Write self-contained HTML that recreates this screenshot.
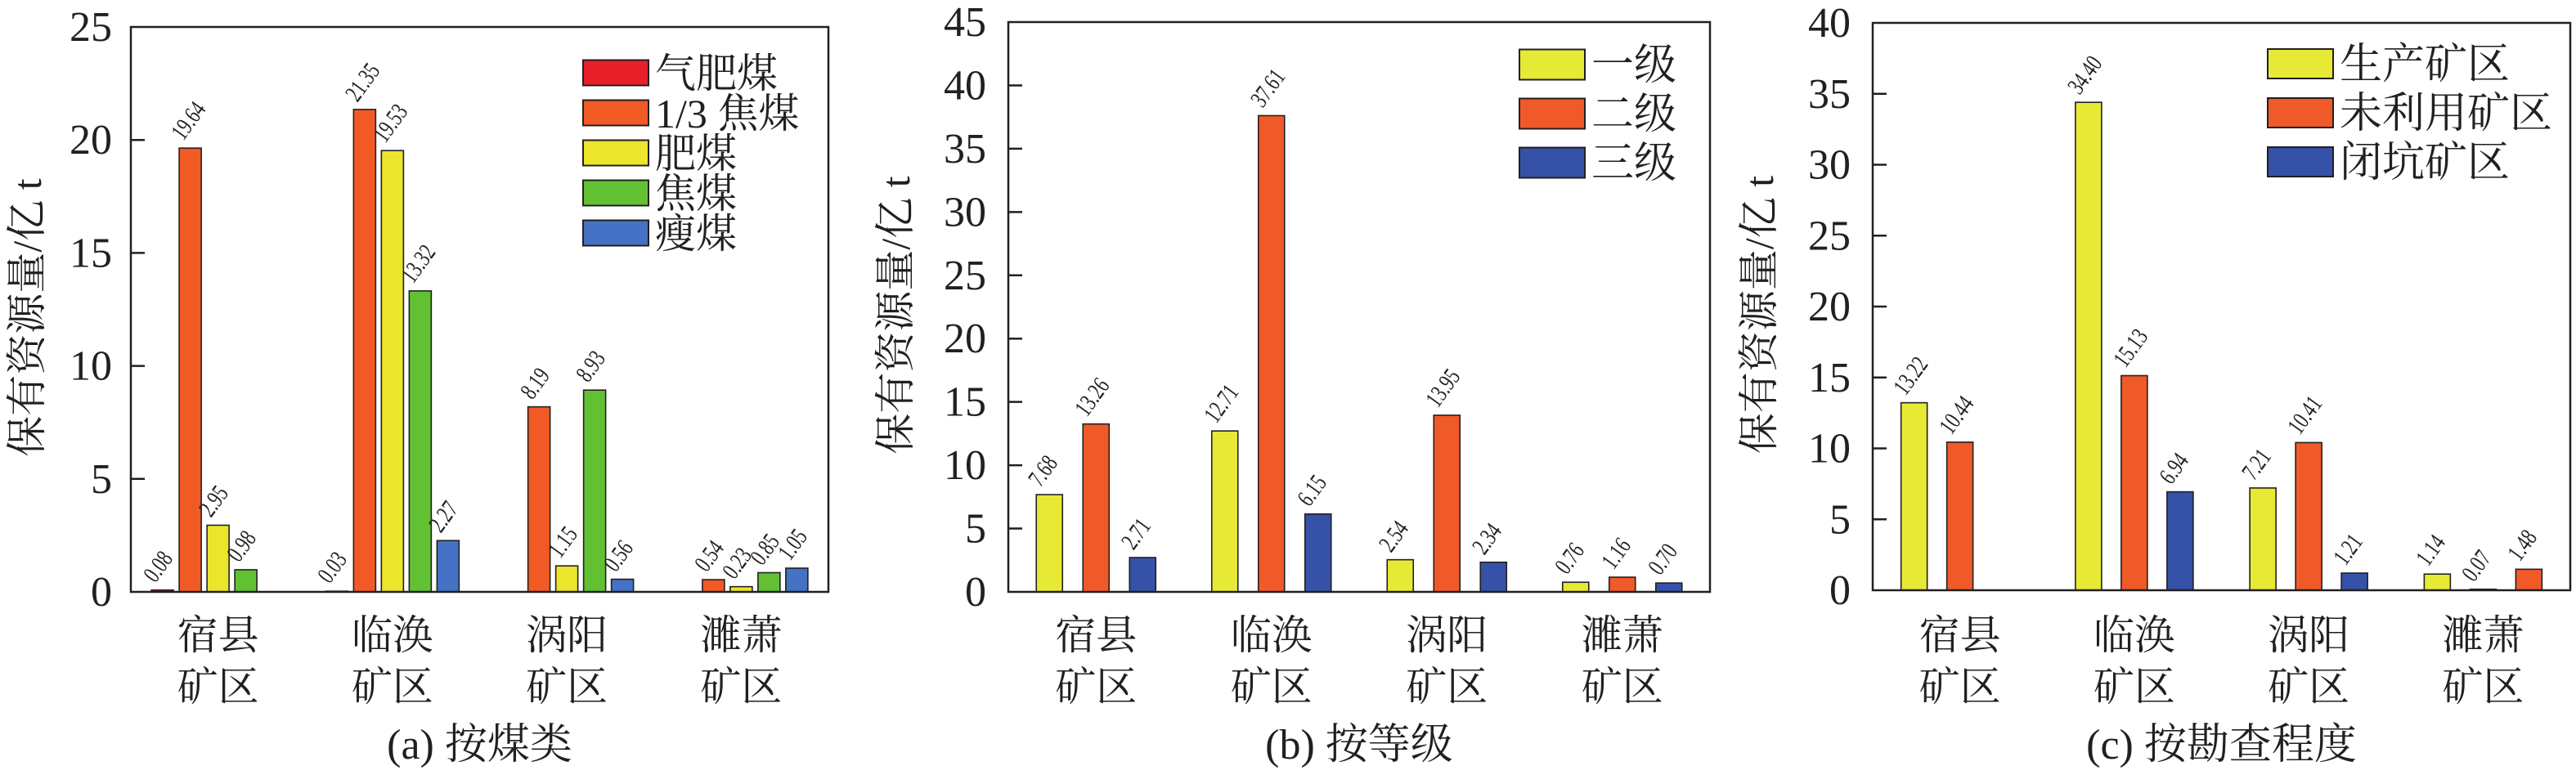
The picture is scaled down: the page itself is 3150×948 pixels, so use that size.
<!DOCTYPE html>
<html><head><meta charset="utf-8">
<style>
html,body{margin:0;padding:0;background:#fff;}
#wrap{position:relative;width:3150px;height:948px;overflow:hidden;}
svg{display:block;position:absolute;left:0;top:0;}
text{font-family:"Liberation Serif","Noto Serif CJK SC",serif;fill:#231f20;}
.vl{position:absolute;font-family:"Liberation Serif",serif;font-size:30px;line-height:30px;color:#231f20;white-space:nowrap;transform-origin:0 24px;transform:rotate(-54deg) scaleX(0.72);}
</style></head>
<body>
<div id="wrap">
<svg id="chart" width="3150" height="948" viewBox="0 0 3150 948" xmlns="http://www.w3.org/2000/svg"></svg>
</div>
<script>
const categories = ["宿县|矿区","临涣|矿区","涡阳|矿区","濉萧|矿区"];

// Panel (a) 按煤类
const aSeriesNames = ["气肥煤","1/3 焦煤","肥煤","焦煤","瘦煤"];
const aQifei = [0.08, 0.03, 0, 0];
const aOneThird = [19.64, 21.35, 8.19, 0.54];
const aFei = [2.95, 19.53, 1.15, 0.23];
const aJiao = [0.98, 13.32, 8.93, 0.85];
const aShou = [0, 2.27, 0.56, 1.05];
const aTicks = [0,5,10,15,20,25];

// Panel (b) 按等级
const bSeriesNames = ["一级","二级","三级"];
const bGrade1 = [7.68, 12.71, 2.54, 0.76];
const bGrade2 = [13.26, 37.61, 13.95, 1.16];
const bGrade3 = [2.71, 6.15, 2.34, 0.70];
const bTicks = [0,5,10,15,20,25,30,35,40,45];

// Panel (c) 按勘查程度
const cSeriesNames = ["生产矿区","未利用矿区","闭坑矿区"];
const cProducing = [13.22, 34.40, 7.21, 1.14];
const cUnused = [10.44, 15.13, 10.41, 1.48];
const cClosed = [0, 6.94, 1.21, 0.07];
const cTicks = [0,5,10,15,20,25,30,35,40];
const cSlotOrder = [[0,1,2],[0,1,2],[0,1,2],[0,2,1]];

const NS = "http://www.w3.org/2000/svg";
const svg = document.getElementById("chart");
const wrap = document.getElementById("wrap");
function mk(tag, attrs, parent){
  const e = document.createElementNS(NS, tag);
  for (const k in attrs) e.setAttribute(k, attrs[k]);
  (parent||svg).appendChild(e);
  return e;
}

function panel(cfg){
  const g = mk("g", {});
  
  
  const {left,right,top,bottom,ymax} = cfg;
  const y = v => bottom - v/ymax*(bottom-top);
  const bandW = (right-left)/categories.length;
  const cx = i => left + (i+0.5)*bandW;
  const nS = cfg.series.length;

  cfg.series.forEach((vals, s) => {
    vals.forEach((v, i) => {
      if (v <= 0) return;
      const slot = cfg.slotOrder ? cfg.slotOrder[i][s] : s;
      const x0 = cx(i) - (nS*cfg.step)/2 + slot*cfg.step + (cfg.step-cfg.barW)/2;
      const r = mk("rect", {x:x0, y:y(v), width:cfg.barW, height:bottom-y(v), fill:cfg.colors[s], stroke:"#231f20","stroke-width":1.6}, g);
      
      
      const d = document.createElement("div");
      d.className = "vl";
      d.style.left = (x0 + 5) + "px";
      d.style.top = (y(v) - 8 - 24) + "px";
      d.textContent = v.toFixed(2);
      
      
      wrap.appendChild(d);
    });
  });

  const fr = mk("rect", {x:left, y:top, width:right-left, height:bottom-top, fill:"none", stroke:"#231f20","stroke-width":2.5}, g);
  
  

  cfg.ticks.forEach(tv => {
    const ty = y(tv);
    if (tv > 0 && tv < ymax) {
      const tk = mk("line", {x1:left, x2:left+17, y1:ty, y2:ty, stroke:"#231f20","stroke-width":2.5}, g);
      
      
    }
    const tl = mk("text", {x:cfg.tickRight, y:ty+17, "font-size":52, "text-anchor":"end"}, g);
    tl.textContent = tv;
    
    
  });

  const yt = mk("text", {x:cfg.titleX, y:(top+bottom)/2+10, "font-size":50, "text-anchor":"middle", transform:`rotate(-90 ${cfg.titleX} ${(top+bottom)/2+10})`}, g);
  yt.textContent = "保有资源量/亿 t";
  
  

  categories.forEach((c, i) => {
    const [l1, l2] = c.split("|");
    const t1 = mk("text", {x:cx(i), y:794, "font-size":50, "text-anchor":"middle"}, g);
    t1.textContent = l1;
    
    
    const t2 = mk("text", {x:cx(i), y:857, "font-size":50, "text-anchor":"middle"}, g);
    t2.textContent = l2;
    
    
  });

  const cap = mk("text", {x:(left+right)/2, y:928, "font-size":52, "text-anchor":"middle"}, g);
  cap.textContent = cfg.caption;
  
  

  cfg.names.forEach((n, s) => {
    const ry = cfg.legTop + s*cfg.legGap;
    const lr = mk("rect", {x:cfg.legX, y:ry - cfg.legH/2, width:80, height:cfg.legH, fill:cfg.colors[s], stroke:"#231f20","stroke-width":2}, g);
    
    
    const lt = mk("text", {x:cfg.legX+88, y:ry+18, "font-size":cfg.legFont}, g);
    lt.textContent = n;
    
    
  });
}

panel({name:"panel-a-by-coal-type", key:"a", left:160, right:1013, top:33, bottom:724, ymax:25,
  series:[aQifei,aOneThird,aFei,aJiao,aShou], names:aSeriesNames, ticks:aTicks,
  colors:["#e8202a","#f15a24","#ebe52c","#62c132","#4472c4"],
  barW:27, step:34, tickRight:137, titleX:50, caption:"(a) 按煤类",
  legX:713, legTop:89, legGap:49, legH:31, legFont:50});

panel({name:"panel-b-by-grade", key:"b", left:1233, right:2091, top:27, bottom:724, ymax:45,
  series:[bGrade1,bGrade2,bGrade3], names:bSeriesNames, ticks:bTicks,
  colors:["#e6ea35","#f05a28","#3552a8"],
  barW:32, step:57, tickRight:1206, titleX:1112, caption:"(b) 按等级",
  legX:1858, legTop:79, legGap:60, legH:37, legFont:52});

panel({name:"panel-c-by-exploration", key:"c", left:2290, right:3143, top:28, bottom:722, ymax:40,
  series:[cProducing,cUnused,cClosed], names:cSeriesNames, ticks:cTicks, slotOrder:cSlotOrder,
  colors:["#e6ea35","#f05a28","#3552a8"],
  barW:32, step:56, tickRight:2263, titleX:2168, caption:"(c) 按勘查程度",
  legX:2773, legTop:78, legGap:60, legH:36, legFont:52});
</script>
</body></html>
